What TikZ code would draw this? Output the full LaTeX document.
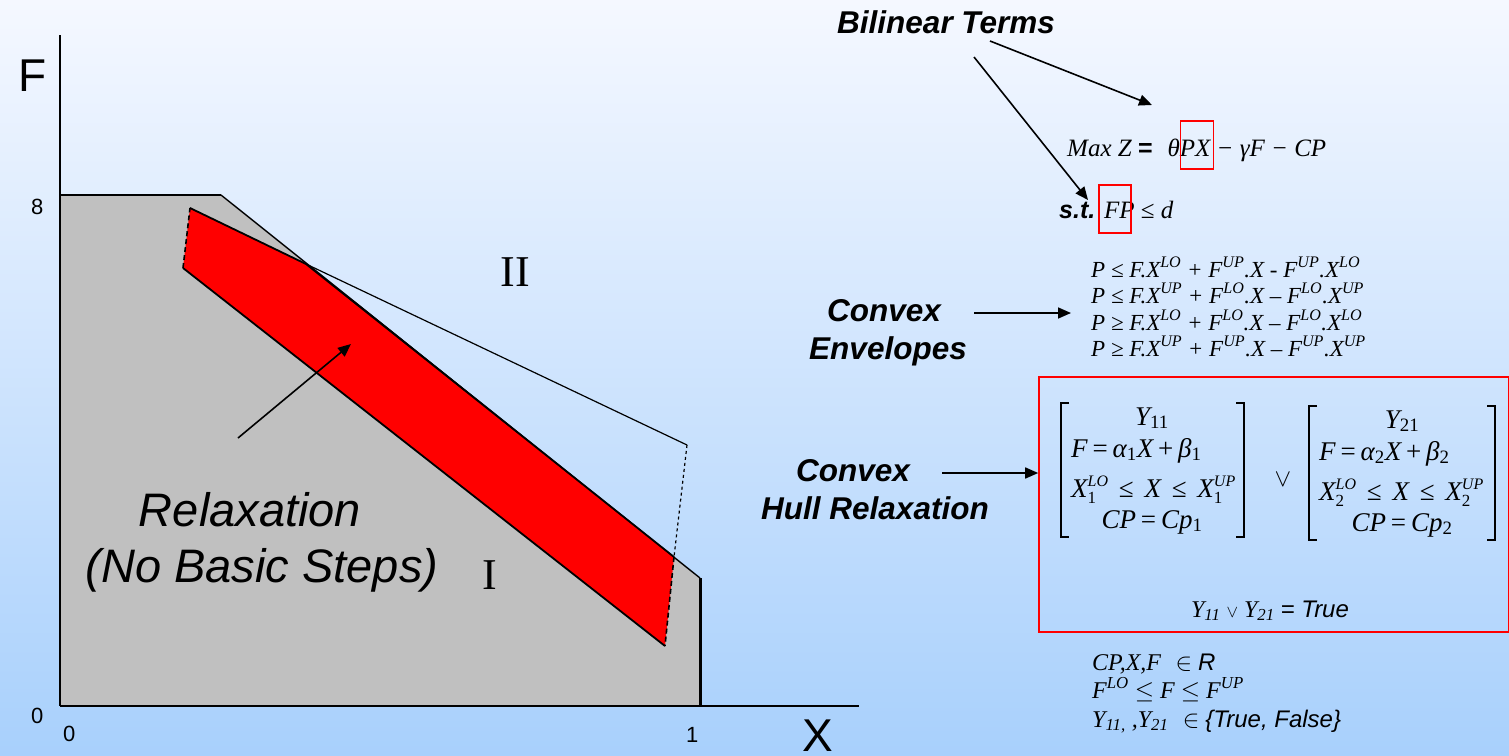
\documentclass[tikz,border=0pt]{standalone}
\usepackage{fontspec}
\setmainfont{Liberation Serif}
\setsansfont{Liberation Sans}
\usetikzlibrary{arrows.meta}
\newcommand{\fsz}[1]{\fontsize{#1}{#1}\selectfont}
\newcommand{\SbSp}[2]{\makebox[0pt][l]{\raisebox{0.85ex}{\fsz{16}#2}}\makebox[0pt][l]{\raisebox{-0.55ex}{\fsz{17}\upshape #1}}\hphantom{\fsz{16}#2}}
\newcommand{\Sb}[1]{\textsubscript{\upshape #1}}
\newcommand{\op}[1]{\hspace{0.18em}{\upshape #1}\hspace{0.18em}}
\newcommand{\wop}[1]{\hspace{0.4em}{\upshape #1}\hspace{0.4em}}
\definecolor{bgtop}{RGB}{245,248,255}
\definecolor{bgmid}{RGB}{212,230,253}
\definecolor{bgbot}{RGB}{168,208,252}
\definecolor{regiongray}{RGB}{192,192,192}
\definecolor{relaxred}{RGB}{255,0,0}
\tikzset{
  lbl/.style={font=\sffamily\bfseries\itshape\fsz{31.5}, inner sep=0pt, anchor=base west},
  arr/.style={-{Triangle[length=13pt,width=11pt]}, line width=1.6pt},
  eq/.style={font=\itshape\fsz{23}, inner sep=0pt, anchor=base west},
  mx/.style={font=\itshape\fsz{27}, inner sep=0pt},
  brk/.style={line width=1.2pt},
  axl/.style={font=\sffamily\fsz{22}, inner sep=0pt, anchor=base west},
  big/.style={font=\sffamily\fsz{46}, inner sep=0pt, anchor=base west},
  roman/.style={font=\fsz{44}, inner sep=0pt, anchor=base},
  redbox/.style={draw=red, line width=1.6pt},
  relaxtxt/.style={font=\sffamily\itshape\fsz{47}, inner sep=0pt, anchor=base},
}
\begin{document}
\begin{tikzpicture}[x=1pt,y=-1pt]
\useasboundingbox (0,0) rectangle (1509,755);
\shade[top color=bgtop, middle color=bgmid, bottom color=bgbot] (0,0) rectangle (1509,755);

% ---------- left plot ----------
\fill[regiongray] (60,195) -- (221,195) -- (700,578) -- (700,706) -- (60,706) -- cycle;
\draw[line width=2.5pt] (60,195) -- (221,195);
\draw[line width=1.4pt] (221,195) -- (700,578);
\draw[line width=3pt] (700,578) -- (700,706);
% region II boundary
\draw[line width=1.2pt] (306,264) -- (687,445);
\draw[line width=1.2pt, dashed] (687,445) -- (674,557);
% red relaxation band
\fill[relaxred] (190,208) -- (306,264) -- (674,557) -- (665,646) -- (183,268) -- cycle;
\draw[line width=1.8pt] (190,208) -- (306,264) -- (674,557);
\draw[line width=1.8pt] (665,646) -- (183,268);
\draw[line width=1.6pt, dash pattern=on 5pt off 3pt] (183,268) -- (190,208);
\draw[line width=1.6pt, dash pattern=on 5pt off 3pt] (674,557) -- (665,646);
% axes
\draw[line width=1.5pt] (60,35) -- (60,706);
\draw[line width=2pt] (60,706) -- (859,706);

\node[big] (F) at (18,91) {F};
\node[big] (X) at (802,751) {X};
\node[axl] (eight) at (31,214) {8};
\node[axl] (zeroL) at (31,723) {0};
\node[axl] (zeroB) at (63,741) {0};
\node[axl] (one) at (686,742) {1};
\node[roman] (II) at (515,286) {II};
\node[roman] (I) at (490,589) {I};

\node[relaxtxt] (relax1) at (250,526) {Relaxation};
\node[relaxtxt] (relax2) at (262,582) {(No Basic Steps)};
\coordinate (relaxtail) at (238,438);
\coordinate (relaxtip) at (351,344);
\draw[arr] (relaxtail) -- (relaxtip);

% ---------- right side ----------
\node[lbl] (bil) at (837,33) {Bilinear Terms};
\coordinate (bilA) at (990,41);
\coordinate (bilB) at (974,57);

\node[eq, font=\itshape\fsz{25}] (maxz) at (1067,156) {Max Z {\upshape\sffamily\bfseries =}\hspace{0.6em}θPX − γF − CP};
\node[redbox, inner sep=0pt, minimum width=33pt, minimum height=48pt] (boxPX) at (1197,145) {};
\node[eq, font=\fsz{25}] (st) at (1059,218) {{\sffamily\bfseries\itshape s.t.}\hspace{0.35em}\textit{FP} ≤ \textit{d}};
\node[redbox, inner sep=0pt, minimum width=32pt, minimum height=48pt] (boxFP) at (1115,209) {};
\coordinate (tipPX) at (1152,105);
\coordinate (tipFP) at (1088,200);
\draw[arr] (bilA) -- (tipPX);
\draw[arr] (bilB) -- (tipFP);

\node[lbl, anchor=base] (cv1) at (884,321) {Convex};
\node[lbl, anchor=base] (env) at (888,359) {Envelopes};
\coordinate (envtail) at (974,313);
\node[eq] (e1) at (1091,277) {P ≤ F.X\textsuperscript{LO} + F\textsuperscript{UP}.X - F\textsuperscript{UP}.X\textsuperscript{LO}};
\node[eq] (e2) at (1091,303) {P ≤ F.X\textsuperscript{UP} + F\textsuperscript{LO}.X – F\textsuperscript{LO}.X\textsuperscript{UP}};
\node[eq] (e3) at (1091,330) {P ≥ F.X\textsuperscript{LO} + F\textsuperscript{LO}.X – F\textsuperscript{LO}.X\textsuperscript{LO}};
\node[eq] (e4) at (1091,356) {P ≥ F.X\textsuperscript{UP} + F\textsuperscript{UP}.X – F\textsuperscript{UP}.X\textsuperscript{UP}};
\coordinate (envtip) at (1071,313);
\draw[arr] (envtail) -- (envtip);

% convex hull box
\node[draw=red, line width=1.6pt, inner sep=0pt, minimum width=470pt, minimum height=255pt] (hull) at (1274,504.5) {};
\node[lbl, anchor=base] (cv2) at (853,481) {Convex};
\node[lbl, anchor=base] (hullr) at (875,519) {Hull Relaxation};
\coordinate (hulltail) at (942,473);
\draw[arr] (hulltail) -- (hull.west |- hulltail);

% left disjunct
\draw[brk] (1069,403) -- (1061,403) -- (1061,537) -- (1069,537);
\draw[brk] (1236,403) -- (1244,403) -- (1244,537) -- (1236,537);
\node[mx, anchor=base] (y11) at (1152,425) {Y\Sb{11}};
\node[mx, anchor=base west] (f1) at (1071,457) {F\op{=}α\Sb{1}X\op{+}β\Sb{1}};
\node[mx, anchor=base west] (x1) at (1071,497) {X\SbSp{1}{LO}\wop{≤}X\wop{≤}X\SbSp{1}{UP}};
\node[mx, anchor=base] (cp1) at (1152,528) {CP\op{=}Cp\Sb{1}};
% or
\node[font=\fsz{36}, inner sep=0pt] (or) at (1283,480) {$\vee$};
% right disjunct
\draw[brk] (1317,406) -- (1309,406) -- (1309,540) -- (1317,540);
\draw[brk] (1487,406) -- (1495,406) -- (1495,540) -- (1487,540);
\node[mx, anchor=base] (y21) at (1402,428) {Y\Sb{21}};
\node[mx, anchor=base west] (f2) at (1319,460) {F\op{=}α\Sb{2}X\op{+}β\Sb{2}};
\node[mx, anchor=base west] (x2) at (1319,500) {X\SbSp{2}{LO}\wop{≤}X\wop{≤}X\SbSp{2}{UP}};
\node[mx, anchor=base] (cp2) at (1402,531) {CP\op{=}Cp\Sb{2}};

\node[eq, font=\fsz{24}, anchor=base] (ytrue) at (1270,617) {\textit{Y\textsubscript{11}} {\fsz{16}$\vee$} \textit{Y\textsubscript{21}} {\sffamily\itshape = True}};

% domains
\node[eq, font=\itshape\fsz{24}] (d1) at (1092,670) {CP,X,F\hspace{0.6em}{\upshape $\in$} {\sffamily R}};
\node[eq, font=\itshape\fsz{24}] (d2) at (1092,698) {F\textsuperscript{LO} {\upshape $\leq$} F {\upshape $\leq$} F\textsuperscript{UP}};
\node[eq, font=\itshape\fsz{24}] (d3) at (1092,727) {Y\textsubscript{11,} ,Y\textsubscript{21}\hspace{0.6em}{\upshape $\in$} {\sffamily\{True, False\}}};
\end{tikzpicture}
\end{document}
